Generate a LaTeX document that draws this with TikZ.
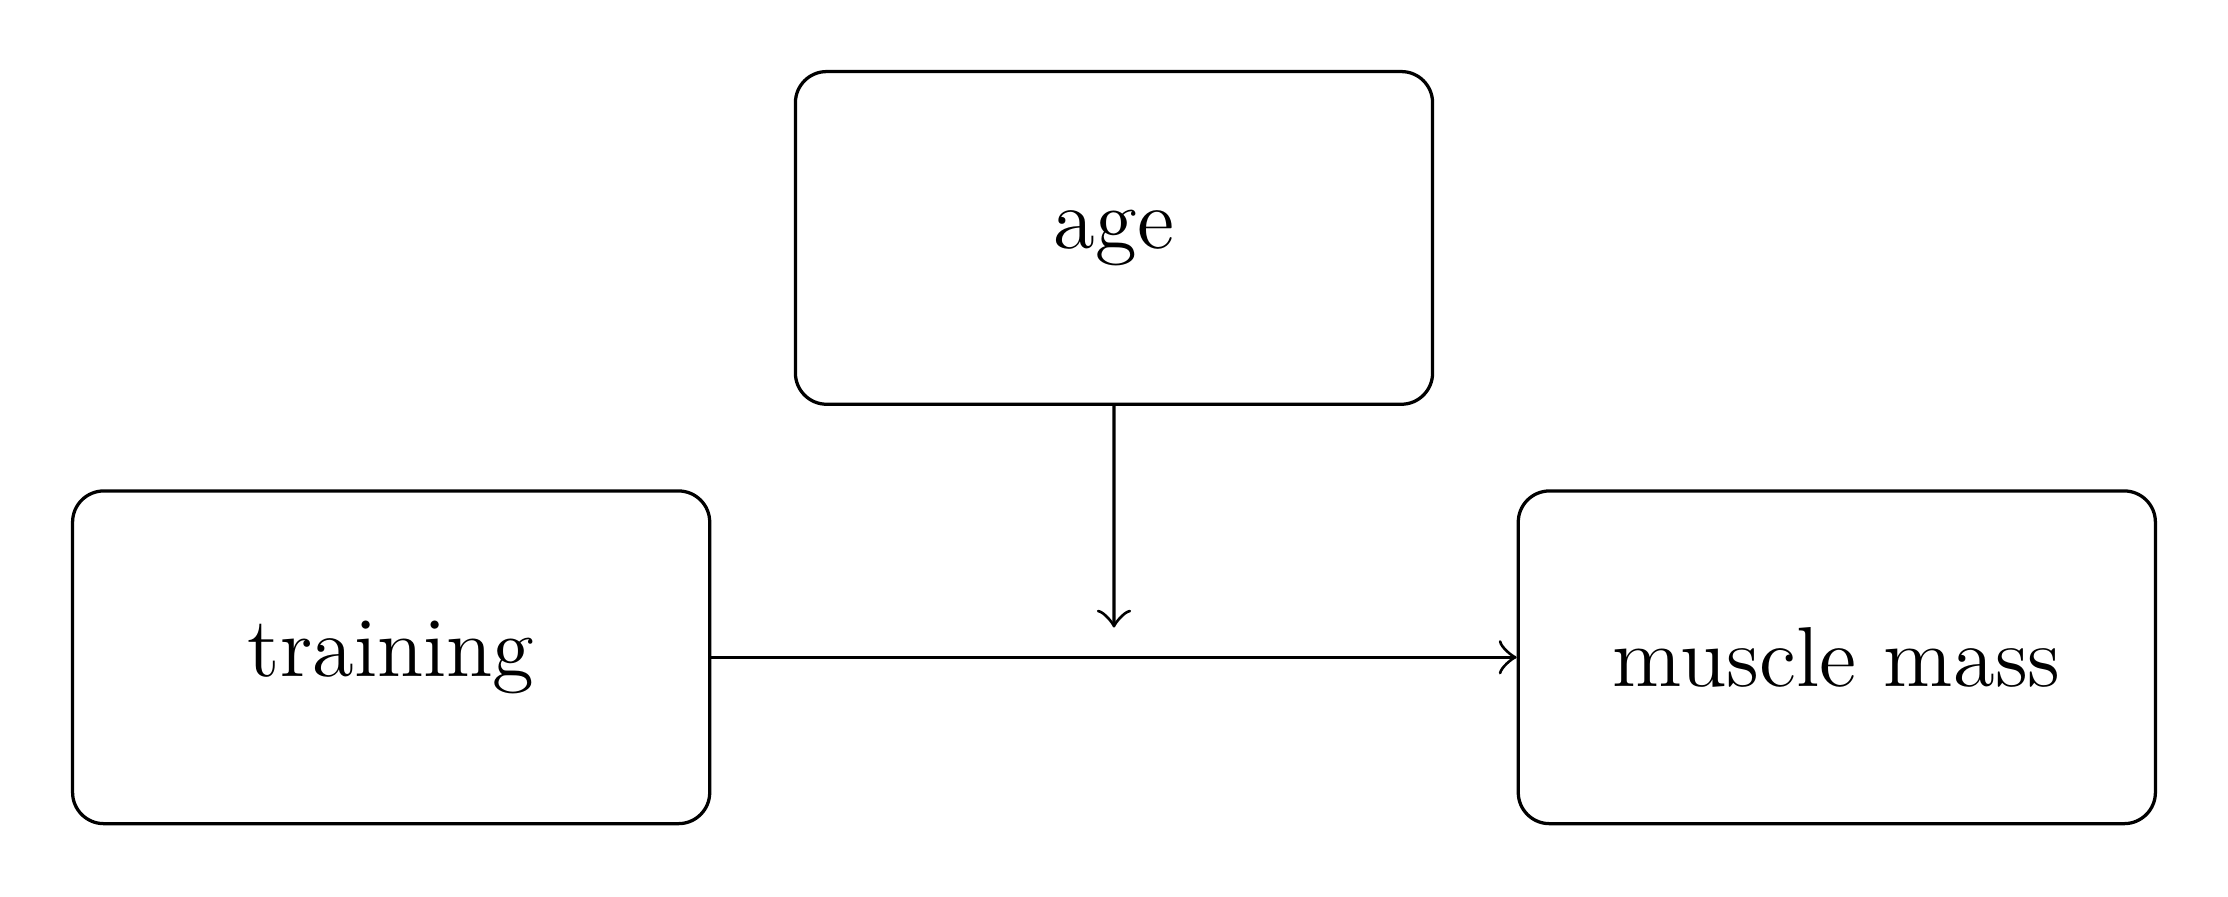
\documentclass[tikz,border=0pt]{standalone}
\usetikzlibrary{arrows.meta, positioning}

\begin{document}
\begin{tikzpicture}[
    >={Classical TikZ Rightarrow[scale=1.3]},
    line width=0.46pt,
    var/.style={draw, rounded corners=4.4pt, minimum width=3.16cm,
                minimum height=1.65cm, font=\large}
  ]
  \useasboundingbox (-1.94, -1.185) rectangle (9.11, 3.26);

  % Variables
  \node[var] (train) at (0, 0) {training};
  \node[var] (mass) at (7.17, 0) {muscle mass};
  \node[var] (age) at (3.585, 2.08) {age};

  % Effects
  \draw[->] (train) -- (mass) coordinate[midway] (mid);
  \draw[->, shorten >=4.2pt] (age) -- (mid);
\end{tikzpicture}
\end{document}
